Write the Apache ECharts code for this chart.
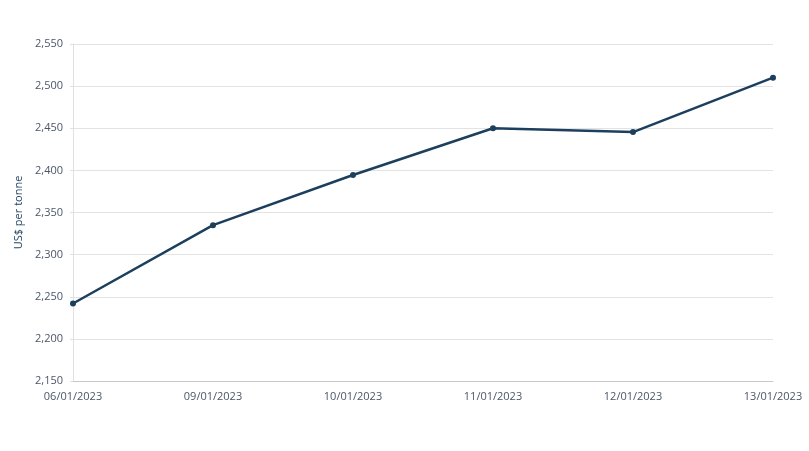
<!DOCTYPE html>
<html>
<head>
<meta charset="utf-8">
<script src="https://cdn.jsdelivr.net/npm/echarts@6/dist/echarts.min.js"></script>
<style>
  html, body { margin: 0; padding: 0; background: #fff; }
  #chart { width: 809px; height: 451px; }
</style>
</head>
<body>
<div id="chart"></div>
<script>
// dates and prices
var dates = ['06/01/2023', '09/01/2023', '10/01/2023', '11/01/2023', '12/01/2023', '13/01/2023'];
var prices = [2242, 2335, 2394.5, 2450, 2445.5, 2510];

var labelColor = '#4a5668';
var lineColor = '#1c3f5e';

var myChart = echarts.init(document.getElementById('chart'));

var option = {
    animation: false,
    grid: { left: 73, right: 36, top: 44, bottom: 70 },
    xAxis: {
        type: 'category',
        data: dates,
        boundaryGap: false,
        axisLine: { lineStyle: { color: '#c8c8c8' } },
        axisTick: { show: false },
        axisLabel: { color: labelColor, fontFamily: 'Open Sans', fontSize: 11, margin: 10 },
        splitLine: { show: false }
    },
    yAxis: {
        type: 'value',
        min: 2150,
        max: 2550,
        interval: 50,
        name: 'US$ per tonne',
        nameLocation: 'middle',
        nameGap: 49,
        nameTextStyle: { color: '#1c3f5e', fontFamily: 'Open Sans', fontSize: 11 },
        axisLine: { show: true, lineStyle: { color: '#e0e0e0' } },
        axisTick: { show: true, length: 3, lineStyle: { color: '#e0e0e0' } },
        axisLabel: {
            color: labelColor, fontFamily: 'Open Sans', fontSize: 11, margin: 10,
            formatter: function (v) { return v.toLocaleString('en-US'); }
        },
        splitLine: { lineStyle: { color: '#e3e3e3' } }
    },
    series: [{
        type: 'line',
        data: prices,
        symbol: 'circle',
        symbolSize: 6,
        itemStyle: { color: lineColor },
        lineStyle: { color: lineColor, width: 2.5 }
    }]
};

myChart.setOption(option);
</script>
</body>
</html>
